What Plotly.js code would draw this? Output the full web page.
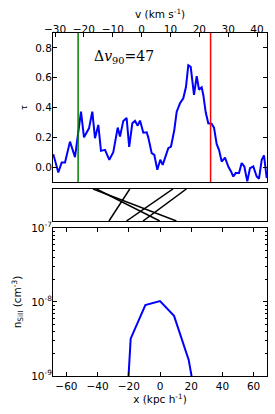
<!DOCTYPE html>
<html>
<head>
<meta charset="utf-8">
<script src="https://cdn.plot.ly/plotly-3.0.1.min.js"></script>
<style>
html,body{margin:0;padding:0;background:#fff;}
#chart{width:275px;height:414px;}
</style>
</head>
<body>
<div id="chart"></div>
<script>
// ---- data ----
// optical depth spectrum (velocity in km/s, tau)
var specV = [-30.6, -28.86, -27.69, -26.54, -24.81, -23.08, -21.0, -19.96, -18.23, -17.08,
  -16.15, -15.0, -14.07, -12.68, -11.19, -9.81, -8.28, -7.48, -6.34, -5.2,
  -4.3, -3.22, -2.29, -1.35, -0.55, 0.59, 1.77, 2.32, 3.50, 4.40,
  5.44, 6.48, 7.31, 8.35, 9.25, 10.19, 11.33, 12.16, 13.31, 14.45,
  15.38, 16.18, 17.01, 18.16, 19.09, 19.89, 20.82, 21.38, 22.21, 23.11,
  24.29, 25.09, 26.02, 26.82, 27.75, 28.90, 30.04, 30.98, 31.77, 32.61,
  33.75, 34.68, 35.59, 36.62, 37.56, 38.70, 39.88, 40.68, 41.62, 42.41, 43.35];
var specTau = [0.087, -0.036, 0.031, 0.031, 0.171, 0.067, 0.372, 0.200, 0.260, 0.372,
  0.194, 0.283, 0.109, 0.116, 0.049, 0.100, 0.265, 0.205, 0.310, 0.330,
  0.135, 0.294, 0.310, 0.278, 0.312, 0.231, 0.234, 0.198, 0.094, 0.082,
  -0.018, 0.049, 0.015, 0.071, 0.127, 0.138, 0.249, 0.372, 0.428, 0.462,
  0.539, 0.684, 0.673, 0.484, 0.610, 0.520, 0.535, 0.484, 0.368, 0.294,
  0.290, 0.265, 0.154, 0.116, 0.037, 0.064, 0.004, -0.029, -0.063, -0.040,
  -0.040, 0.027, 0.004, -0.096, -0.007, 0.004, -0.063, -0.078, 0.049, 0.078, -0.074];
var v90Bounds = [-22.0, 23.9];
var dv90 = 47;

// mapping lines between panels (kpc/h at top and bottom edge of middle panel)
var midTopX = [-42.9, -40.7, -19.4, 8.3, 16.9];
var midBotX = [10.5, -0.2, -32.7, -21.5, -10.9];

// SiII number density profile
var densX = [-20.3, -18.8, -9.4, 0.0, 9.0, 18.4, 20.6];
var densN = [9.0e-10, 3.2e-9, 9.1e-9, 1.03e-8, 6.5e-9, 1.65e-9, 9.0e-10];

// tick labels
var vTicks = [-30, -20, -10, 0, 10, 20, 30, 40];
var tauTicks = [0.0, 0.2, 0.4, 0.6, 0.8];
var xTicks = [-60, -40, -20, 0, 20, 40, 60];
var nTickVals = [1e-9, 1e-8, 1e-7];
var nTickText = ['10<sup>-9</sup>', '10<sup>-8</sup>', '10<sup>-7</sup>'];

// ---- build chart ----
var FONT = 'DejaVu Sans, sans-serif';
var FS = 10.5;
var traces = [];
traces.push({x: specV, y: specTau, xaxis: 'x', yaxis: 'y', mode: 'lines',
  line: {color: '#0000ff', width: 2}, hoverinfo: 'skip'});
traces.push({x: [v90Bounds[0], v90Bounds[0]], y: [-0.1, 0.9], xaxis: 'x', yaxis: 'y', mode: 'lines',
  line: {color: '#008000', width: 1.5}, hoverinfo: 'skip'});
traces.push({x: [v90Bounds[1], v90Bounds[1]], y: [-0.1, 0.9], xaxis: 'x', yaxis: 'y', mode: 'lines',
  line: {color: '#ff0000', width: 1.5}, hoverinfo: 'skip'});
for (var i = 0; i < midTopX.length; i++) {
  traces.push({x: [midTopX[i], midBotX[i]], y: [1, 0], xaxis: 'x2', yaxis: 'y2', mode: 'lines',
    line: {color: '#000000', width: 1.5}, hoverinfo: 'skip'});
}
var minorVals = [];
[1e-9, 1e-8].forEach(function(d){ for (var k = 2; k <= 9; k++) minorVals.push(k*d); });
traces.push({x: densX, y: densN, xaxis: 'x3', yaxis: 'y3', mode: 'lines',
  line: {color: '#0000ff', width: 2}, hoverinfo: 'skip'});

var axBase = {showline: true, linecolor: '#000', linewidth: 1, showgrid: false, zeroline: false,
  ticks: 'inside', tickcolor: '#000', ticklen: 4, tickwidth: 1,
  tickfont: {family: FONT, size: FS, color: '#000'}};
function ax(o){ var r = {}; for (var k in axBase) r[k] = axBase[k]; for (var k2 in o) r[k2] = o[k2]; return r; }

var layout = {
  width: 275, height: 414,
  margin: {l: 53, r: 8, t: 33, b: 38},
  paper_bgcolor: '#fff', plot_bgcolor: '#fff',
  showlegend: false,
  font: {family: FONT, size: FS, color: '#000'},
  xaxis: ax({domain: [0, 1], anchor: 'y', side: 'top', range: [-30.7, 43.45],
    tickvals: vTicks, mirror: true, ticklabelstandoff: -5}),
  yaxis: ax({domain: [0.5656, 1], anchor: 'x', range: [-0.1, 0.9],
    tickvals: tauTicks, tickformat: '.1f', mirror: 'ticks', ticklabelstandoff: -2,
    title: {text: 'τ', font: {family: FONT, size: 8}, standoff: 6}}),
  xaxis2: ax({domain: [0, 1], anchor: 'y2', range: [-68.6, 68.6], ticks: '', showticklabels: false, mirror: true}),
  yaxis2: ax({domain: [0.4519, 0.5452], anchor: 'x2', range: [0, 1], ticks: '', showticklabels: false, mirror: true}),
  xaxis3: ax({domain: [0, 1], anchor: 'y3', range: [-68.6, 68.6], tickvals: xTicks, mirror: 'ticks',
    title: {text: 'x (kpc h<sup>-1</sup>)', font: {family: FONT, size: FS}, standoff: 2}}),
  yaxis3: ax({domain: [0, 0.4315], anchor: 'x3', type: 'log', range: [-9, -7],
    tickvals: nTickVals, ticktext: nTickText, mirror: 'ticks', ticklabelstandoff: -2,
    minor: {tickvals: minorVals, ticks: 'inside', ticklen: 2, tickcolor: '#000'},
    title: {text: 'n<sub>SiII</sub> (cm<sup>-3</sup>)', font: {family: FONT, size: FS}, standoff: 7}}),
  annotations: [{
    xref: 'x', yref: 'y', x: -17.2, y: 0.738, xanchor: 'left', yanchor: 'middle',
    text: 'Δ<i>v</i><sub>90</sub>=' + dv90, showarrow: false,
    font: {family: 'DejaVu Serif, serif', size: 14, color: '#000'}
  }, {
    xref: 'paper', yref: 'paper', x: 0.5, y: 1.0554, xanchor: 'center', yanchor: 'middle',
    text: 'v (km s<sup>-1</sup>)', showarrow: false,
    font: {family: FONT, size: FS, color: '#000'}
  }]
};

Plotly.newPlot('chart', traces, layout, {displayModeBar: false});
</script>
</body>
</html>
